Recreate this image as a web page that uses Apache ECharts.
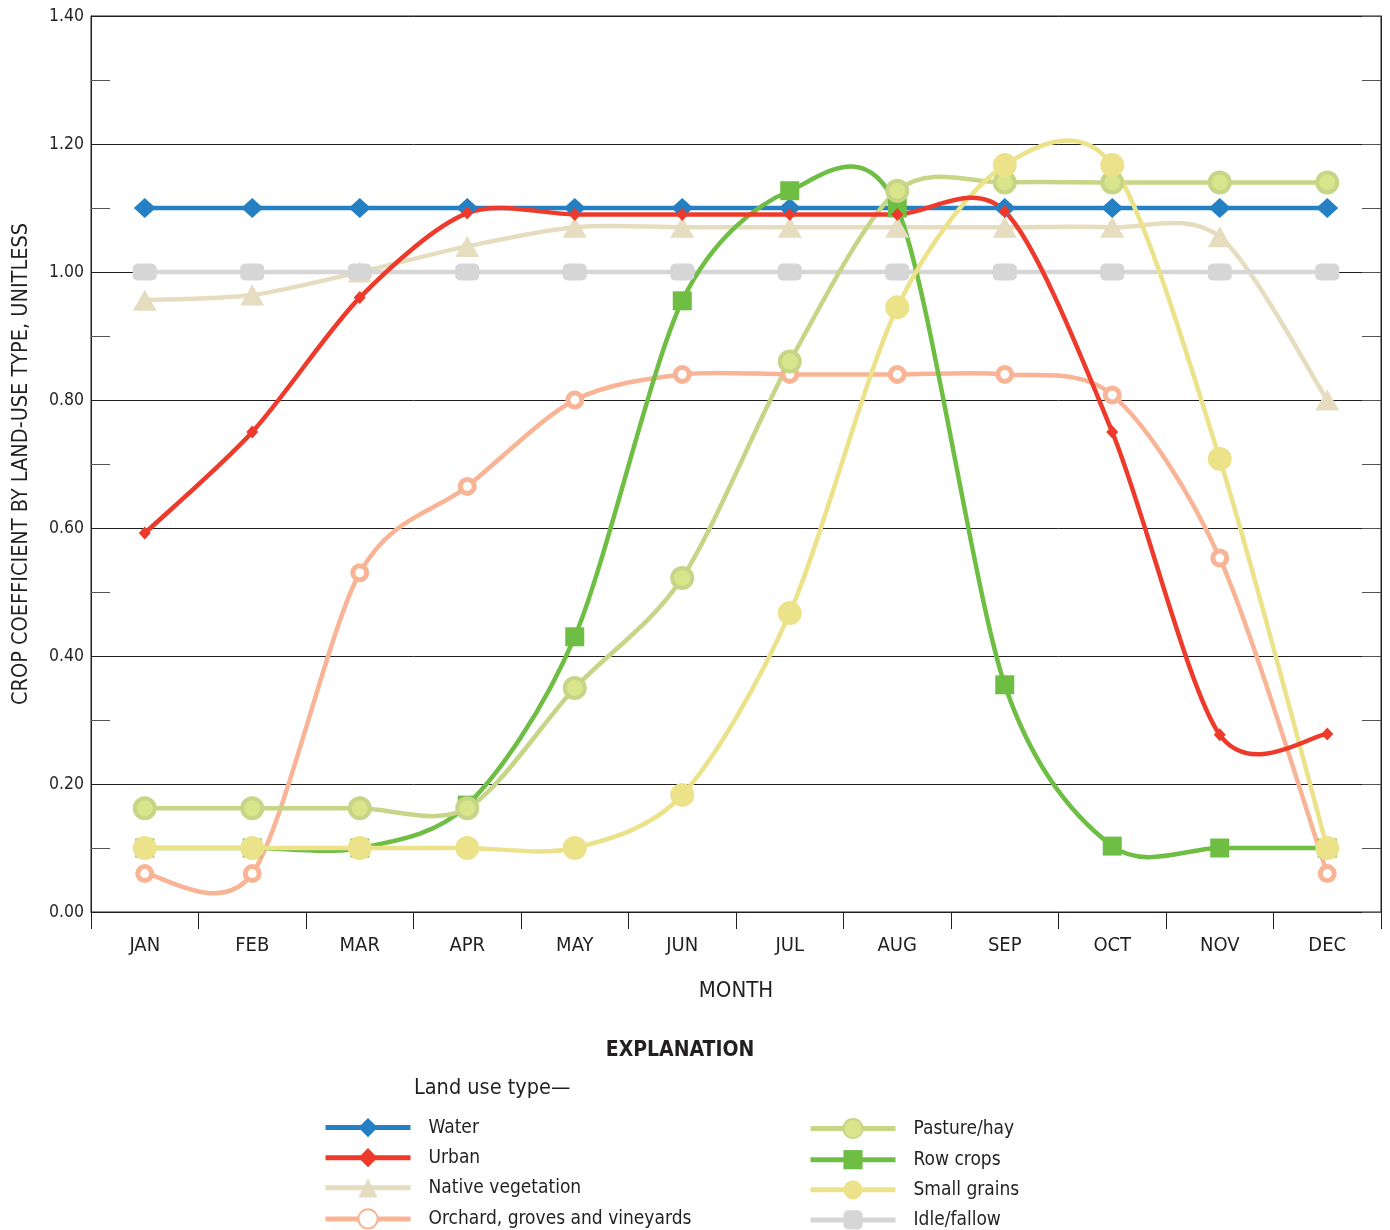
<!DOCTYPE html>
<html>
<head>
<meta charset="utf-8">
<script src="https://cdn.jsdelivr.net/npm/echarts@6/dist/echarts.min.js"></script>
<style>
html,body{margin:0;padding:0;background:#fff;}
#chart{width:1390px;height:1230px;}
</style>
</head>
<body>
<div id="chart"></div>
<script>
const months = ['JAN','FEB','MAR','APR','MAY','JUN','JUL','AUG','SEP','OCT','NOV','DEC'];
const yTicks = [0, 0.2, 0.4, 0.6, 0.8, 1.0, 1.2, 1.4];

const water      = [1.10, 1.10, 1.10, 1.10, 1.10, 1.10, 1.10, 1.10, 1.10, 1.10, 1.10, 1.10];
const urban      = [0.592, 0.75, 0.96, 1.092, 1.09, 1.09, 1.09, 1.09, 1.095, 0.75, 0.277, 0.278];
const nativeVeg  = [0.956, 0.964, 1.00, 1.04, 1.07, 1.07, 1.07, 1.07, 1.07, 1.07, 1.055, 0.80];
const orchard    = [0.06, 0.06, 0.53, 0.665, 0.80, 0.84, 0.84, 0.84, 0.84, 0.808, 0.553, 0.06];
const pasture    = [0.162, 0.162, 0.162, 0.162, 0.35, 0.522, 0.86, 1.127, 1.14, 1.14, 1.14, 1.14];
const rowCrops   = [0.10, 0.10, 0.10, 0.167, 0.43, 0.955, 1.127, 1.10, 0.355, 0.103, 0.10, 0.10];
const smallGrain = [0.10, 0.10, 0.10, 0.10, 0.10, 0.183, 0.467, 0.945, 1.167, 1.167, 0.708, 0.10];
const idle       = [1.00, 1.00, 1.00, 1.00, 1.00, 1.00, 1.00, 1.00, 1.00, 1.00, 1.00, 1.00];

const names = ['Water','Urban','Native vegetation','Orchard, groves and vineyards','Pasture/hay','Row crops','Small grains','Idle/fallow'];

const FONT = "'Liberation Sans Narrow', 'DejaVu Sans Condensed', 'Roboto', sans-serif";
const INK = '#231f20';
const TENSION = 0.88;

// Smooth curve through the data points, positioned with the chart's own axes (api.coord)
function curve(name, data, color) {
  return {
    type: 'custom',
    name: name + ' curve',
    data: [[0, data[0]]],
    encode: {x: 0, y: 1},
    silent: true,
    animation: false,
    renderItem: function (params, api) {
      const p = data.map((v, i) => api.coord([i, v]));
      let d = 'M' + p[0][0] + ' ' + p[0][1];
      for (let i = 0; i < p.length - 1; i++) {
        const p0 = p[Math.max(i - 1, 0)], p1 = p[i], p2 = p[i + 1], p3 = p[Math.min(i + 2, p.length - 1)];
        const c1x = p1[0] + (p2[0] - p0[0]) / 6 * TENSION;
        const c1y = p1[1] + (p2[1] - p0[1]) / 6 * TENSION;
        const c2x = p2[0] - (p3[0] - p1[0]) / 6 * TENSION;
        const c2y = p2[1] - (p3[1] - p1[1]) / 6 * TENSION;
        d += ' C' + c1x + ' ' + c1y + ' ' + c2x + ' ' + c2y + ' ' + p2[0] + ' ' + p2[1];
      }
      return {
        type: 'path',
        shape: {pathData: d},
        style: {fill: 'none', stroke: color, lineWidth: 4.5, lineCap: 'round', lineJoin: 'round'}
      };
    }
  };
}

function marks(name, data, color, symbol, size, extra) {
  return Object.assign({
    name: name,
    type: 'line',
    data: data,
    symbol: symbol,
    symbolSize: size,
    showAllSymbol: true,
    lineStyle: {color: color, width: 4.5, opacity: 0},
    itemStyle: {color: color},
    emphasis: {disabled: true},
    animation: false
  }, extra || {});
}

const series = [
  curve(names[2], nativeVeg, '#e6dcbf'),
  marks(names[2], nativeVeg, '#e6dcbf', 'triangle', [24, 21]),
  curve(names[7], idle, '#d6d6d6'),
  marks(names[7], idle, '#d6d6d6', 'roundRect', [24, 17]),
  curve(names[0], water, '#2580c3'),
  marks(names[0], water, '#2580c3', 'diamond', [22, 20]),
  curve(names[3], orchard, '#f9b395'),
  marks(names[3], orchard, '#f9b395', 'circle', 14, {itemStyle: {color: '#ffffff', borderColor: '#f9b395', borderWidth: 5}}),
  curve(names[5], rowCrops, '#6fbe44'),
  marks(names[5], rowCrops, '#6fbe44', 'rect', 19),
  curve(names[4], pasture, '#c6d586'),
  marks(names[4], pasture, '#c6d586', 'circle', 20, {itemStyle: {color: '#d9e58b', borderColor: '#c6d586', borderWidth: 4}}),
  curve(names[6], smallGrain, '#ebe28a'),
  marks(names[6], smallGrain, '#ebe28a', 'circle', 24),
  curve(names[1], urban, '#ee3a2a'),
  marks(names[1], urban, '#ee3a2a', 'diamond', [12, 13])
];

const legendCommon = {
  orient: 'vertical',
  top: 1118, height: 130,
  padding: 0,
  itemWidth: 85, itemHeight: 24, itemGap: 10.9,
  textStyle: {fontFamily: FONT, fontSize: 19, color: INK, padding: [0, 0, 0, 13]},
  lineStyle: {width: 5, opacity: 1},
  selectedMode: false
};

const chart = echarts.init(document.getElementById('chart'), null, {renderer: 'canvas'});
chart.setOption({
  backgroundColor: '#ffffff',
  animation: false,
  grid: {left: 91, right: 9, top: 16, bottom: 318, outerBoundsMode: 'none', containLabel: false,
         show: true, borderColor: INK, borderWidth: 1, backgroundColor: 'transparent'},
  xAxis: {
    type: 'category',
    data: months,
    boundaryGap: true,
    name: 'MONTH',
    nameLocation: 'middle',
    nameGap: 68,
    nameTextStyle: {fontFamily: FONT, fontSize: 22, color: INK, verticalAlign: 'top'},
    axisLine: {lineStyle: {color: INK, width: 1}},
    axisTick: {show: true, length: 17, inside: false, lineStyle: {color: INK}},
    axisLabel: {fontFamily: FONT, fontSize: 20, color: INK, margin: 24},
    splitLine: {show: false}
  },
  yAxis: [{
    type: 'value',
    min: 0, max: 1.4, interval: 0.2,
    name: 'CROP COEFFICIENT BY LAND-USE TYPE, UNITLESS',
    nameLocation: 'middle',
    nameGap: 59,
    nameTextStyle: {fontFamily: FONT, fontSize: 21.5, color: INK},
    axisLine: {show: true, lineStyle: {color: INK, width: 1}},
    axisTick: {show: true, inside: true, length: 19, lineStyle: {color: INK}},
    minorTick: {show: true, splitNumber: 2, length: 19, lineStyle: {color: '#555'}},
    axisLabel: {fontFamily: FONT, fontSize: 17.5, color: INK, margin: 7, formatter: v => v.toFixed(2)},
    splitLine: {show: true, lineStyle: {color: INK, width: 1}}
  }, {
    type: 'value',
    position: 'right',
    min: 0, max: 1.4, interval: 0.2,
    axisLine: {show: true, lineStyle: {color: INK, width: 1}},
    axisTick: {show: true, inside: true, length: 19, lineStyle: {color: '#555'}},
    minorTick: {show: true, splitNumber: 2, length: 19, lineStyle: {color: '#555'}},
    axisLabel: {show: false},
    splitLine: {show: false}
  }],
  legend: [
    Object.assign({data: names.slice(0, 4), left: 323}, legendCommon),
    Object.assign({data: names.slice(4, 8), left: 808}, legendCommon)
  ],
  graphic: [{
    type: 'text', x: 680, y: 1051,
    style: {text: 'EXPLANATION', fontFamily: FONT, fontSize: 21, fontWeight: 'bold', fill: INK,
            textAlign: 'center', textVerticalAlign: 'middle'}
  }, {
    type: 'text', x: 414, y: 1088,
    style: {text: 'Land use type—', fontFamily: FONT, fontSize: 21.5, fill: INK,
            textAlign: 'left', textVerticalAlign: 'middle'}
  }],
  series: series
});
</script>
</body>
</html>
